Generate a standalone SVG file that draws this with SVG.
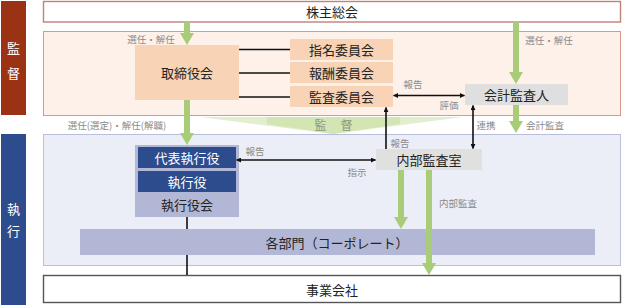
<svg xmlns="http://www.w3.org/2000/svg" width="624" height="305" viewBox="0 0 624 305">
<defs>
<style>
text{font-family:"Noto Sans CJK JP","Noto Sans",sans-serif;dominant-baseline:central;text-anchor:middle}
.n{font-size:13px;fill:#222}
.w{font-size:13px;fill:#fff}
.l{font-size:9.5px;fill:#8a8a8a}
.g{fill:#a9cc78}
.blk{stroke:#111;stroke-width:1.6;fill:none}
</style>
<marker id="ah" viewBox="0 0 6 6" refX="5.5" refY="3" markerWidth="5" markerHeight="5" orient="auto-start-reverse" markerUnits="userSpaceOnUse">
<path d="M0,0 L6,3 L0,6 z" fill="#111"/>
</marker>
</defs>
<rect width="624" height="305" fill="#fff"/>

<g id="side-kantoku">
<rect x="1" y="1" width="25" height="114" fill="#9b3214"/>
<text class="w" x="13.5" y="47">監</text>
<text class="w" x="13.5" y="72">督</text>
</g>
<g id="side-shikko">
<rect x="1" y="134" width="25" height="171" fill="#2c4c8d"/>
<text class="w" x="13.5" y="208">執</text>
<text class="w" x="13.5" y="230">行</text>
</g>

<g id="area-kantoku">
<rect x="43.5" y="31.5" width="577" height="84" fill="#fdf1ea" stroke="#d99a88" stroke-width="1"/>
</g>
<g id="area-shikko">
<rect x="43.5" y="134.5" width="577" height="131" fill="#eceef7" stroke="#b8bedc" stroke-width="1"/>
</g>

<g id="wedge">
<polygon points="200,117 463,117 333,134" fill="#e3eecf"/>
<polygon points="267,117 400,117 400,124 333,134 267,124" fill="#d3e5b2"/>
<text x="334" y="124" style="font-size:12px;fill:#8d9980;letter-spacing:1px">監　督</text>
</g>

<g id="kabunushi">
<rect x="43.5" y="1.5" width="577" height="20.5" fill="#fff" stroke="#c08272" stroke-width="1.4"/>
<text class="n" x="332" y="11.5">株主総会</text>
</g>

<g id="torishimariyaku">
<rect x="135" y="45" width="104" height="55" fill="#f8d3b6"/>
<text class="n" x="187" y="72.5">取締役会</text>
</g>
<g id="shimei">
<rect x="290" y="39" width="103" height="21" fill="#f8d3b6"/>
<text class="n" x="341.5" y="49.5">指名委員会</text>
</g>
<g id="houshu">
<rect x="290" y="62" width="103" height="21" fill="#f8d3b6"/>
<text class="n" x="341.5" y="72.5">報酬委員会</text>
</g>
<g id="kansa">
<rect x="290" y="86" width="103" height="21" fill="#f8d3b6"/>
<text class="n" x="341.5" y="96.5">監査委員会</text>
</g>
<g id="kaikei">
<rect x="465" y="84" width="103" height="21" fill="#dfdfdf"/>
<text class="n" x="516.5" y="94.5">会計監査人</text>
</g>

<g id="shikkoyakukai">
<rect x="135" y="145" width="104" height="72" fill="#b3b7d6"/>
<text class="n" x="187" y="204">執行役会</text>
</g>
<g id="daihyo">
<rect x="138" y="147" width="98" height="21" fill="#2c4c8d"/>
<text class="w" x="187" y="157.5">代表執行役</text>
</g>
<g id="shikkoyaku">
<rect x="138" y="171" width="98" height="21" fill="#2c4c8d"/>
<text class="w" x="187" y="181.5">執行役</text>
</g>
<g id="naibu">
<rect x="376" y="149" width="106" height="21" fill="#e0e1df"/>
<text class="n" x="429" y="159.5">内部監査室</text>
</g>
<g id="kakubumon">
<rect x="80" y="229" width="515" height="26" fill="#b3b7d6"/>
<text class="n" x="337" y="242">各部門（コーポレート）</text>
</g>
<g id="jigyo">
<rect x="43.5" y="275.5" width="577" height="27" fill="#fff" stroke="#555" stroke-width="1.4"/>
<text class="n" x="332" y="289">事業会社</text>
</g>

<g id="connectors">
<!-- green arrows -->
<path class="g" d="M184,22 h6 v11 h4 l-7,12 l-7,-12 h4 z"/>
<path class="g" d="M513,22 h6 v50 h4 l-7,12 l-7,-12 h4 z"/>
<path class="g" d="M184,100 h6 v33 h4 l-7,12 l-7,-12 h4 z"/>
<path class="g" d="M513,105 h6 v16 h4 l-7,12 l-7,-12 h4 z"/>
<path class="g" d="M398,170 h6 v47 h4 l-7,12 l-7,-12 h4 z"/>
<path class="g" d="M426,170 h6 v93 h4 l-7,12 l-7,-12 h4 z"/>
<!-- black lines -->
<line class="blk" x1="239" y1="49.5" x2="290" y2="49.5"/>
<line class="blk" x1="239" y1="73" x2="290" y2="73"/>
<line class="blk" x1="239" y1="97" x2="290" y2="97"/>
<line class="blk" x1="187" y1="217" x2="187" y2="229"/>
<line class="blk" x1="187" y1="255" x2="187" y2="275"/>
<line class="blk" x1="393.5" y1="95.5" x2="464.5" y2="95.5" marker-start="url(#ah)" marker-end="url(#ah)"/>
<line class="blk" x1="386" y1="149" x2="386" y2="107.5" marker-end="url(#ah)"/>
<line class="blk" x1="473" y1="105.5" x2="473" y2="148.5" marker-start="url(#ah)" marker-end="url(#ah)"/>
<line class="blk" x1="236.5" y1="160" x2="375.5" y2="160" marker-start="url(#ah)" marker-end="url(#ah)"/>
<!-- labels -->
<text class="l" x="151" y="39">選任・解任</text>
<text class="l" x="549" y="40">選任・解任</text>
<text class="l" x="117" y="125">選任(選定)・解任(解職)</text>
<text class="l" x="545" y="125">会計監査</text>
<text class="l" x="413" y="84">報告</text>
<text class="l" x="449" y="105">評価</text>
<text class="l" x="400" y="143">報告</text>
<text class="l" x="486" y="125">連携</text>
<text class="l" x="255" y="151">報告</text>
<text class="l" x="357" y="172">指示</text>
<text class="l" x="458" y="203">内部監査</text>
</g>
</svg>
